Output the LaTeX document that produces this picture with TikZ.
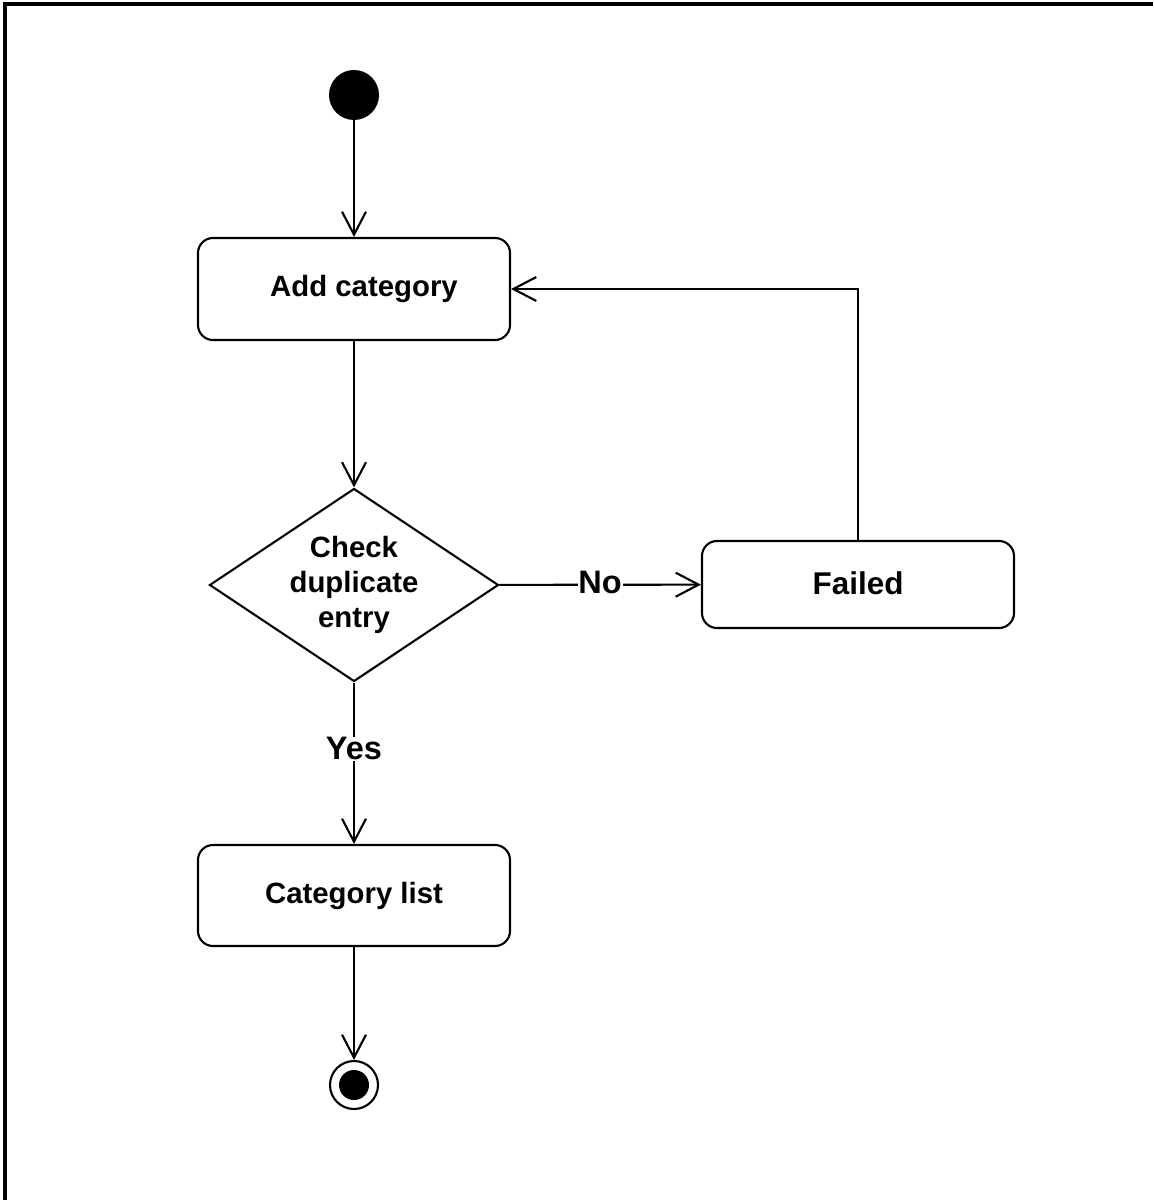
\documentclass[tikz,border=0pt]{standalone}
\usepackage{fontspec}
\setmainfont{Liberation Sans}
\usetikzlibrary{arrows.meta, shapes.geometric}

\begin{document}
\begin{tikzpicture}[
    activity/.style={draw, rectangle, rounded corners=0.3cm, minimum width=6.24cm, align=center, line width=1.2pt, font=\fontsize{16.7}{20}\selectfont\bfseries},
    decision/.style={draw, diamond, aspect=1.5, minimum width=5.78cm, minimum height=3.86cm, inner sep=0pt, align=center, line width=1.2pt, font=\fontsize{16.7}{20}\selectfont\bfseries},
    guard/.style={fill=white, inner sep=0.5pt, font=\fontsize{18.5}{20}\selectfont\bfseries},
    arrow/.style={-{Straight Barb[length=4.6mm, width=4.8mm, line width=1.2pt]}, line width=1.2pt}
]
\useasboundingbox (0,0) rectangle (23.06,-24);

% Frame
\draw[line width=2.2pt] (0.1,-24) -- (0.1,-0.08) -- (23.06,-0.08);

% Initial node
\node[circle, fill=black, minimum size=1cm, inner sep=0pt] (start) at (7.08,-1.9) {};

% Activities
\node[activity, minimum height=2.04cm] (addcat) at (7.08,-5.78) {\hspace*{0.4cm}Add category};
\node[decision] (check) at (7.08,-11.7) {Check\\duplicate\\entry};
\node[activity, minimum height=1.74cm, font=\fontsize{17.9}{20}\selectfont\bfseries] (failed) at (17.16,-11.69) {\raisebox{0.06cm}{Failed}};
\node[activity, minimum height=2.02cm] (catlist) at (7.08,-17.91) {Category list};

% Final node
\node[circle, draw, line width=1.2pt, fill=white, minimum size=0.96cm, inner sep=0pt] (final) at (7.08,-21.7) {};
\node[circle, fill=black, minimum size=0.6cm, inner sep=0pt] (finaldot) at (final) {};

% Arrows
\draw[arrow] (start) -- (addcat);
\draw[arrow] (addcat) -- (check);
\draw[arrow] (check) -- node[guard, yshift=0.05cm] {No} (failed);
\draw[arrow] (check) -- node[guard, pos=0.41] {Yes} (catlist);
\draw[arrow] (catlist) -- (final);

% Retry
\draw[arrow] (failed.north) |- (addcat.east);

\end{tikzpicture}
\end{document}
